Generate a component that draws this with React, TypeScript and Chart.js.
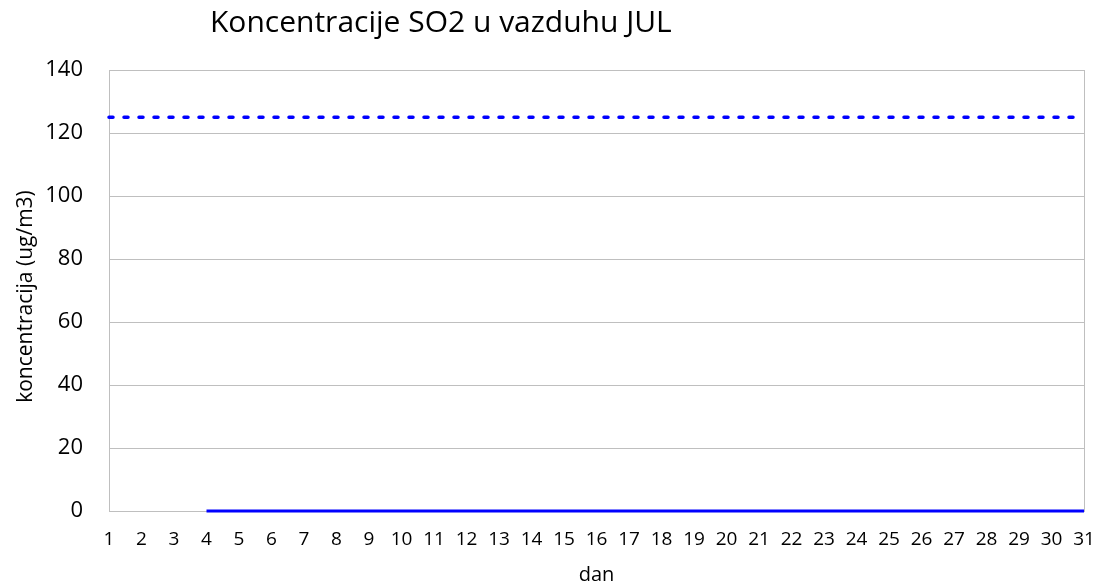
import React, { useEffect, useRef } from "react";
import { Chart, registerables } from "chart.js";

Chart.register(...registerables);

const days: string[] = Array.from({ length: 31 }, (_, i) => String(i + 1));
const so2Values: (number | null)[] = [
  null, null, null, 0, 0, 0, 0, 0, 0, 0, 0, 0, 0, 0, 0, 0, 0, 0, 0, 0, 0, 0, 0, 0, 0, 0, 0, 0, 0, 0, 0,
];
const limitValues: number[] = [
  125, 125, 125, 125, 125, 125, 125, 125, 125, 125, 125, 125, 125, 125, 125, 125,
  125, 125, 125, 125, 125, 125, 125, 125, 125, 125, 125, 125, 125, 125, 125,
];
const titleText = "Koncentracije SO2 u vazduhu JUL";
const xTitle = "dan";
const yTitle = "koncentracija (ug/m3)";

const FONT = "'Open Sans', 'Noto Sans', sans-serif";
const GRID = "#bfbfbf";

const framePlugin = {
  id: "frame",
  afterDatasetsDraw(chart: any) {
    const { ctx, chartArea } = chart;
    ctx.save();
    ctx.strokeStyle = GRID;
    ctx.lineWidth = 1;
    ctx.beginPath();
    ctx.moveTo(Math.round(chartArea.right) + 0.5, chartArea.top);
    ctx.lineTo(Math.round(chartArea.right) + 0.5, chartArea.bottom);
    ctx.stroke();
    ctx.restore();
  },
  afterDraw(chart: any) {
    const { ctx, chartArea } = chart;
    ctx.save();
    ctx.fillStyle = "#000";
    ctx.font = `30px ${FONT}`;
    ctx.textAlign = "left";
    ctx.textBaseline = "alphabetic";
    ctx.fillText(titleText, 210, 32);
    ctx.restore();

    ctx.save();
    ctx.fillStyle = "#000";
    ctx.font = `21px ${FONT}`;
    ctx.textAlign = "center";
    ctx.textBaseline = "middle";
    ctx.translate(26, (chartArea.top + chartArea.bottom) / 2 + 6);
    ctx.rotate(-Math.PI / 2);
    ctx.fillText(yTitle, 0, 0);
    ctx.restore();
  },
};

export default function App() {
  const ref = useRef<HTMLCanvasElement | null>(null);
  useEffect(() => {
    if (!ref.current) return;
    const chart = new Chart(ref.current, {
      type: "line",
      data: {
        labels: days,
        datasets: [
          {
            label: "SO2",
            data: so2Values,
            borderColor: "#0000ff",
            backgroundColor: "#0000ff",
            borderWidth: 3,
            pointRadius: 0,
            spanGaps: false,
            clip: false as any,
            tension: 0,
          },
          {
            label: "GV",
            data: limitValues,
            borderColor: "#0000ff",
            backgroundColor: "#0000ff",
            borderWidth: 3.5,
            borderDash: [4, 11],
            borderCapStyle: "round",
            pointRadius: 0,
            clip: false as any,
            tension: 0,
          },
        ],
      },
      options: {
        animation: false,
        responsive: false,
        maintainAspectRatio: false,
        layout: { padding: { top: 70, right: 15, left: 0, bottom: 0 } },
        plugins: {
          legend: { display: false },
          title: { display: false },
          tooltip: { enabled: false },
        },
        scales: {
          x: {
            type: "category",
            offset: false,
            grid: { display: false, drawTicks: false },
            border: { display: true, color: GRID, width: 1 },
            ticks: {
              color: "#000",
              font: { family: FONT, size: 19 },
              padding: 17,
              maxRotation: 0,
              autoSkip: false,
            },
            title: {
              display: true,
              text: xTitle,
              color: "#000",
              font: { family: FONT, size: 20 },
              padding: { top: 0, bottom: -2 },
            },
            afterFit(scale: any) {
              scale.height = 74;
              scale.paddingLeft = 0;
              scale.paddingRight = 0;
            },
          },
          y: {
            min: 0,
            max: 140,
            ticks: {
              stepSize: 20,
              color: "#000",
              font: { family: FONT, size: 22 },
              padding: 26,
            },
            grid: { color: GRID, lineWidth: 1, drawTicks: false },
            border: { display: true, color: GRID, width: 1 },
            title: { display: false },
            afterFit(scale: any) {
              scale.width = 109;
              scale.paddingTop = 0;
              scale.paddingBottom = 0;
            },
          },
        },
      },
      plugins: [framePlugin],
    });
    return () => chart.destroy();
  }, []);
  return (
    <div style={{ position: "fixed", left: 0, top: 0, width: 1099, height: 585, background: "#fff" }}>
      <canvas ref={ref} width={1099} height={585} style={{ width: 1099, height: 585 }} />
    </div>
  );
}
